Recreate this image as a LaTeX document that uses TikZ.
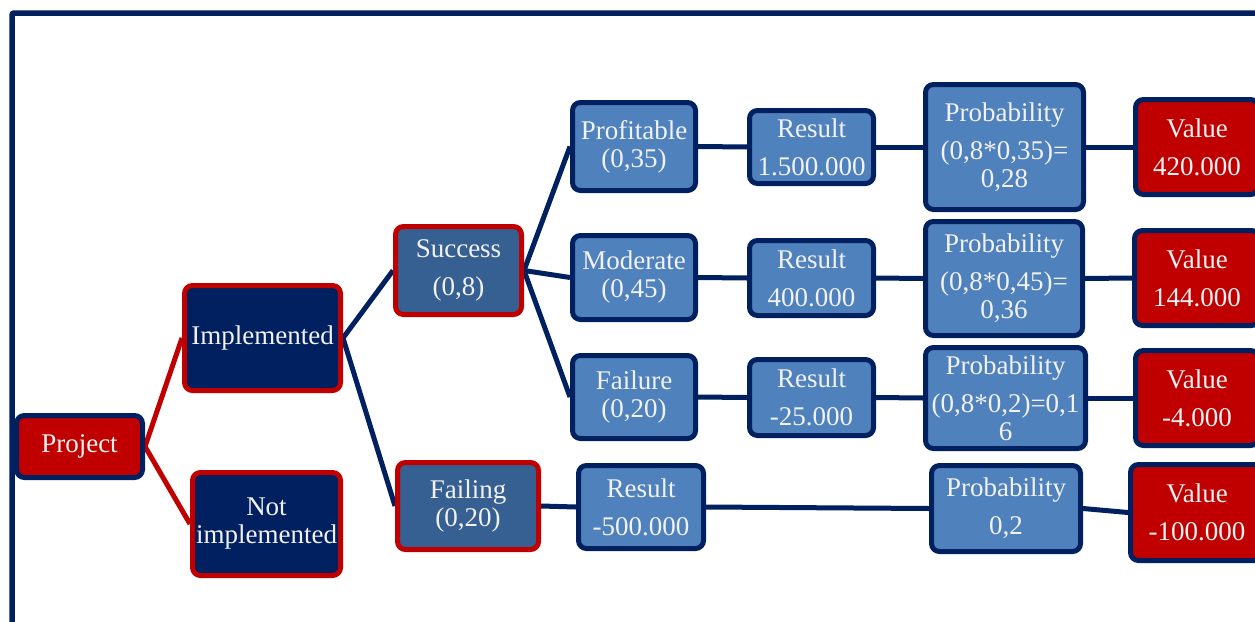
\documentclass[tikz,border=0pt]{standalone}
\usepackage{fontspec}
\setmainfont{Liberation Serif}
\usetikzlibrary{backgrounds}
\definecolor{navy}{HTML}{002060}
\definecolor{dred}{HTML}{C00000}
\definecolor{lblue}{HTML}{4F81BD}
\definecolor{mblue}{HTML}{366092}
\definecolor{txt}{HTML}{F2F2F2}
\tikzset{
  box/.style={rectangle, rounded corners=8pt, line width=5pt, inner sep=0pt,
    align=center, text=txt, font=\fontsize{27}{28}\selectfont},
  redbox/.style={box, fill=dred, draw=navy},
  navybox/.style={box, fill=navy, draw=dred},
  midbox/.style={box, fill=mblue, draw=dred},
  bluebox/.style={box, fill=lblue, draw=navy},
  redline/.style={draw=dred, line width=5pt},
  navyline/.style={draw=navy, line width=5pt},
}
\newcommand{\bx}[5]{\node[#1, minimum width=#2pt, minimum height=#3pt] (#4) at #5}
\begin{document}
\begin{tikzpicture}[x=1pt, y=-1pt]
\useasboundingbox (0,0) rectangle (1255,621);
\clip (0,0) rectangle (1255,621);
\draw[navy, line width=5.5pt, rounded corners=2pt] (12,13) rectangle (1400,800);

\bx{redbox}{126}{62}{proj}{(79.5,446.5)} {Project};
\bx{navybox}{156}{105}{impl}{(262.5,338)} {Implemented};
\bx{navybox}{148}{103}{notimpl}{(266.5,524)} {Not\\implemented};
\bx{midbox}{126}{88}{succ}{(458.5,270.5)} {Success\\[10pt](0,8)};
\bx{midbox}{141}{87}{failing}{(468,506)} {Failing\\(0,20)};
\bx{bluebox}{123}{88}{prof}{(634,146.5)} {Profitable\\(0,35)};
\bx{bluebox}{123}{84}{mod}{(634,277.5)} {Moderate\\(0,45)};
\bx{bluebox}{123}{83}{fail}{(634,397)} {Failure\\(0,20)};
\bx{bluebox}{124}{73}{ra}{(811.5,147)} {Result\\[10pt]1.500.000};
\bx{bluebox}{124}{75}{rb}{(811.5,278)} {Result\\[10pt]400.000};
\bx{bluebox}{124}{76}{rc}{(811.5,397.5)} {Result\\[10pt]-25.000};
\bx{bluebox}{125}{83}{rd}{(641,507)} {Result\\[10pt]-500.000};
\bx{bluebox}{158}{125}{pa}{(1004.5,147)} {Probability\\[10pt](0,8*0,35)=\\0,28};
\bx{bluebox}{157}{114}{pb}{(1004,278.5)} {Probability\\[10pt](0,8*0,45)=\\0,36};
\bx{bluebox}{160}{101}{pc}{(1005.5,398)} {Probability\\[10pt](0,8*0,2)=0,1\\6};
\bx{bluebox}{149}{86}{pd}{(1006,508.5)} {Probability\\[10pt]0,2};
\bx{redbox}{123}{95}{va}{(1197,147)} {Value\\[10pt]420.000};
\bx{redbox}{125}{95}{vb}{(1197,278)} {Value\\[10pt]144.000};
\bx{redbox}{123}{95}{vc}{(1197,398)} {Value\\[10pt]-4.000};
\bx{redbox}{133}{96}{vd}{(1197,512.5)} {Value\\[10pt]-100.000};

\begin{scope}[on background layer]
\draw[redline] (proj.east) -- (impl.west);
\draw[redline] (proj.east) -- (notimpl.west);
\draw[navyline] (impl.east) -- (succ.west);
\draw[navyline] (impl.east) -- (failing.west);
\draw[navyline] (succ.east) -- (prof.west);
\draw[navyline] (succ.east) -- (mod.west);
\draw[navyline] (succ.east) -- (fail.west);
\draw[navyline] (prof.east) -- (ra.west);
\draw[navyline] (mod.east) -- (rb.west);
\draw[navyline] (fail.east) -- (rc.west);
\draw[navyline] (failing.east) -- (rd.west);
\draw[navyline] (ra.east) -- (pa.west);
\draw[navyline] (rb.east) -- (pb.west);
\draw[navyline] (rc.east) -- (pc.west);
\draw[navyline] (rd.east) -- (pd.west);
\draw[navyline] (pa.east) -- (va.west);
\draw[navyline] (pb.east) -- (vb.west);
\draw[navyline] (pc.east) -- (vc.west);
\draw[navyline] (pd.east) -- (vd.west);
\end{scope}
\end{tikzpicture}
\end{document}
